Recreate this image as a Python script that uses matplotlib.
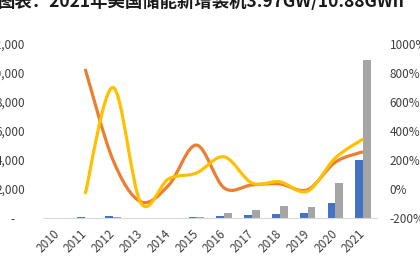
import matplotlib
matplotlib.use("Agg")
import matplotlib.pyplot as plt
import numpy as np
from matplotlib.path import Path
from matplotlib.patches import PathPatch
from matplotlib.ticker import FuncFormatter

plt.rcParams["font.family"] = ["Noto Sans CJK SC", "DejaVu Sans"]

years = ["2010", "2011", "2012", "2013", "2014", "2015", "2016",
         "2017", "2018", "2019", "2020", "2021"]
power_mw = [15, 40, 110, 12, 15, 90, 140, 210, 300, 320, 1020, 3970]
energy_mwh = [10, 8, 100, 5, 15, 40, 330, 520, 850, 750, 2400, 10880]
power_growth = [np.nan, 828, 200, -88, 25, 303, 7, 28, 35, -5, 185, 257]
energy_growth = [np.nan, -34, 700, -95, 70, 110, 222, 41, 50, -15, 214, 345]

BLUE, GRAY, ORANGE, YELLOW = "#4472C4", "#A5A5A5", "#ED7D31", "#FFC000"


def smooth_path(xs, ys):
    # Excel-style smoothed line: cubic Bezier through every point
    pts = [(x, y) for x, y in zip(xs, ys) if not np.isnan(y)]
    verts, codes = [pts[0]], [Path.MOVETO]
    n = len(pts)
    for i in range(n - 1):
        p0 = pts[max(i - 1, 0)]
        p1, p2 = pts[i], pts[i + 1]
        p3 = pts[min(i + 2, n - 1)]
        c1 = (p1[0] + (p2[0] - p0[0]) / 6, p1[1] + (p2[1] - p0[1]) / 6)
        c2 = (p2[0] - (p3[0] - p1[0]) / 6, p2[1] - (p3[1] - p1[1]) / 6)
        verts += [c1, c2, p2]
        codes += [Path.CURVE4] * 3
    return Path(verts, codes)


fig = plt.figure(figsize=(4.2, 2.64), dpi=100)
ax = fig.add_axes([43.5 / 420, 1 - 218 / 264, (377 - 43.5) / 420, 174 / 264])
x = np.arange(len(years))
w = 0.28
ax.bar(x - w / 2, power_mw, w, color=BLUE, zorder=2)
ax.bar(x + w / 2, energy_mwh, w, color=GRAY, zorder=2)
ax.set_ylim(0, 12000)
ax.set_xlim(-0.5, len(years) - 0.5)
ax.set_yticks(range(0, 12001, 2000))
ax.yaxis.set_major_formatter(FuncFormatter(lambda v, p: "-    " if v == 0 else f"{v:,.0f}"))
ax.set_xticks(x)
ax.set_xticklabels(years, rotation=45, ha="right", va="center", rotation_mode="anchor")
for s in ["top", "right", "left"]:
    ax.spines[s].set_visible(False)
ax.spines["bottom"].set_color("#D9D9D9")
ax.tick_params(axis="both", length=0, labelsize=8.5, colors="#404040")
ax.tick_params(axis="y", pad=13)
ax.tick_params(axis="x", pad=10)

ax2 = ax.twinx()
ax2.set_ylim(-200, 1000)
ax2.set_yticks(range(-200, 1001, 200))
ax2.yaxis.set_major_formatter(FuncFormatter(lambda v, p: f"{v:.0f}%"))
for s in ax2.spines.values():
    s.set_visible(False)
ax2.tick_params(axis="y", length=0, labelsize=8.5, colors="#404040", pad=9)
for ys, c in [(power_growth, ORANGE), (energy_growth, YELLOW)]:
    ax2.add_patch(PathPatch(smooth_path(x, ys), fill=False, edgecolor=c,
                            lw=2.3, capstyle="butt", joinstyle="round", zorder=3))

fig.text(-2 / 420, 1 - 7.5 / 264, "图表：2021年美国储能新增装机3.97GW/10.88GWh",
         fontsize=12.5, fontweight="bold", color="#1a1a1a", ha="left", va="baseline")

fig.savefig("out.png", dpi=100)
